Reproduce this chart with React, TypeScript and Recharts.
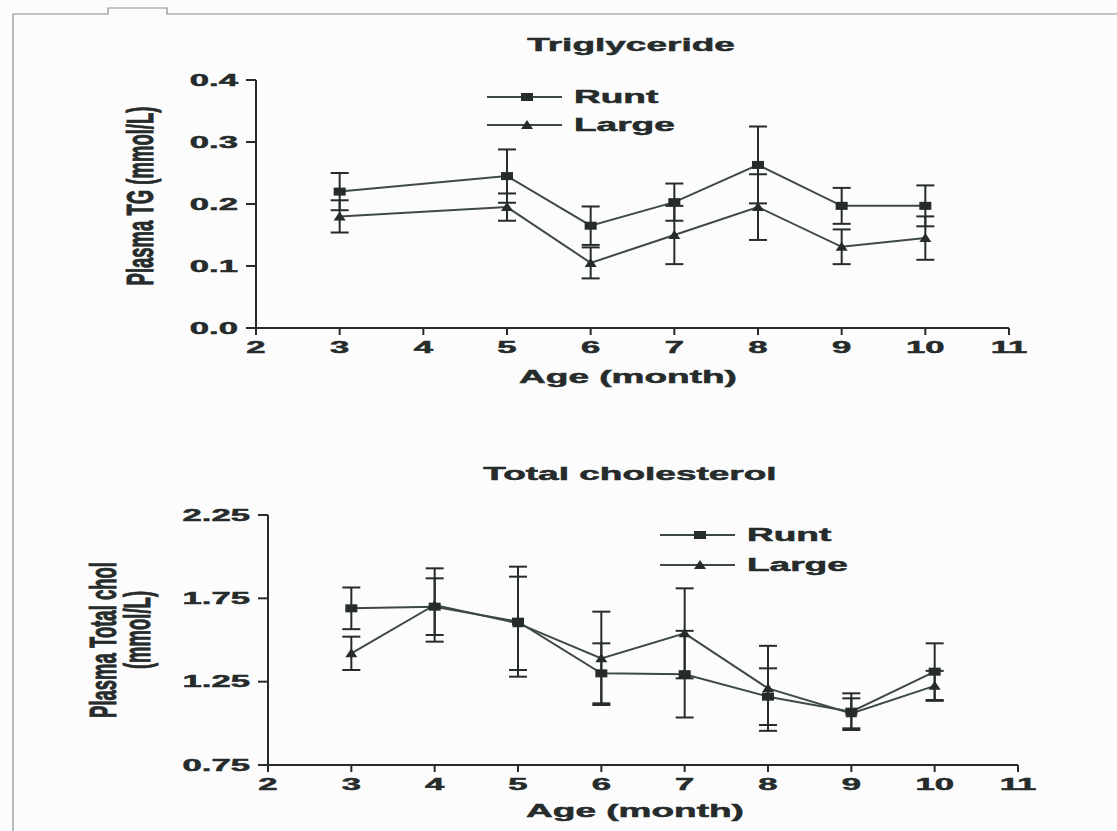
import React from 'react';
import { LineChart, Line, XAxis, YAxis, ErrorBar, Legend } from 'recharts';

// Triglyceride panel
const tgMonths = [3, 5, 6, 7, 8, 9, 10];
const tgRunt = [0.22, 0.245, 0.165, 0.203, 0.263, 0.197, 0.197];
const tgRuntErr = [0.03, 0.043, 0.031, 0.03, 0.062, 0.029, 0.033];
const tgLarge = [0.18, 0.195, 0.105, 0.15, 0.195, 0.131, 0.145];
const tgLargeErr = [0.026, 0.022, 0.025, 0.047, 0.053, 0.028, 0.035];
const tgTicks = [0, 0.1, 0.2, 0.3, 0.4];

// Total cholesterol panel
const cholMonths = [3, 4, 5, 6, 7, 8, 9, 10];
const cholRunt = [1.69, 1.7, 1.61, 1.3, 1.295, 1.16, 1.07, 1.31];
const cholRuntErr = [0.125, 0.17, 0.33, 0.18, 0.26, 0.17, 0.11, 0.17];
const cholLarge = [1.42, 1.71, 1.6, 1.39, 1.54, 1.21, 1.06, 1.225];
const cholLargeErr = [0.1, 0.22, 0.28, 0.28, 0.27, 0.255, 0.09, 0.09];
const cholTicks = [0.75, 1.25, 1.75, 2.25];

const monthTicks = [2, 3, 4, 5, 6, 7, 8, 9, 10, 11];
const seriesNames = ['Runt', 'Large'];

const tgData = tgMonths.map((m, i) => ({
  month: m,
  runt: tgRunt[i],
  runtErr: tgRuntErr[i],
  large: tgLarge[i],
  largeErr: tgLargeErr[i],
}));

const cholData = cholMonths.map((m, i) => ({
  month: m,
  runt: cholRunt[i],
  runtErr: cholRuntErr[i],
  large: cholLarge[i],
  largeErr: cholLargeErr[i],
}));

const INK = '#262b2b';
const LINE = '#3e4848';
const FONT = '"Liberation Sans", Arial, sans-serif';
const SX = 2.0; // the source figure is stretched horizontally

const SquareDot = (props: any) => {
  const { cx, cy, index } = props;
  if (cx == null || cy == null) return null;
  return <rect key={`sq-${index}`} x={cx - 6} y={cy - 4} width={12} height={8} fill={INK} />;
};

const TriangleDot = (props: any) => {
  const { cx, cy, index } = props;
  if (cx == null || cy == null) return null;
  return (
    <path key={`tr-${index}`} d={`M${cx - 6},${cy + 4}L${cx + 6},${cy + 4}L${cx},${cy - 5}Z`} fill={INK} />
  );
};

const makeYTick = (digits: number) => (props: any) => {
  const { x, y, payload } = props;
  return (
    <g transform={`translate(${x},${y}) scale(2.1,1)`}>
      <text
        x={0}
        y={0}
        dy="0.35em"
        textAnchor="end"
        fill={INK}
        stroke={INK}
        strokeWidth={0.5}
        style={{ fontFamily: FONT, fontWeight: 'bold', fontSize: 16.5 }}
      >
        {Number(payload.value).toFixed(digits)}
      </text>
    </g>
  );
};

const XTick = (props: any) => {
  const { x, y, payload } = props;
  return (
    <g transform={`translate(${x},${y}) scale(2.1,1)`}>
      <text
        x={0}
        y={0}
        dy="0.71em"
        textAnchor="middle"
        fill={INK}
        stroke={INK}
        strokeWidth={0.5}
        style={{ fontFamily: FONT, fontWeight: 'bold', fontSize: 16.5 }}
      >
        {payload.value}
      </text>
    </g>
  );
};

const makeLegend = (gap: number) => () => (
  <div style={{ fontFamily: FONT }}>
    {seriesNames.map((name, i) => (
      <div key={name} style={{ display: 'flex', alignItems: 'center', height: gap }}>
        <svg width={75} height={20} style={{ display: 'block' }}>
          <line x1={0} y1={10} x2={75} y2={10} stroke={LINE} strokeWidth={2} />
          {i === 0 ? (
            <rect x={34} y={6} width={12} height={8} fill={INK} />
          ) : (
            <path d="M34,14L46,14L40,5Z" fill={INK} />
          )}
        </svg>
        <span
          style={{
            display: 'inline-block',
            marginLeft: 12,
            fontWeight: 'bold',
            fontSize: 18.5,
            color: INK,
            transform: `scaleX(${SX})`,
            transformOrigin: 'left center',
            WebkitTextStroke: '0.5px ' + INK,
          }}
        >
          {name}
        </span>
      </div>
    ))}
  </div>
);

const textStyle = { fontFamily: FONT, fontWeight: 'bold' as const, fontSize: 18.5 };

const Stretched = ({ x, y, text, rotate = false }: { x: number; y: number; text: string; rotate?: boolean }) => (
  <g transform={rotate ? `translate(${x},${y}) scale(${SX},1) rotate(-90)` : `translate(${x},${y}) scale(${SX},1)`}>
    <text
      x={0}
      y={0}
      dy="0.35em"
      textAnchor="middle"
      fill={INK}
      stroke={INK}
      strokeWidth={0.5}
      style={textStyle}
    >
      {text}
    </text>
  </g>
);

function Panel({
  data,
  ticks,
  domain,
  digits,
  margin,
  height,
  legendGap,
  legendPos,
}: any) {
  return (
    <LineChart width={1117} height={height} data={data} margin={margin}>
      <XAxis
        dataKey="month"
        type="number"
        domain={[2, 11]}
        ticks={monthTicks}
        height={30}
        stroke={INK}
        strokeWidth={2}
        tickSize={7}
        tickMargin={6}
        tick={XTick}
        interval={0}
      />
      <YAxis
        type="number"
        domain={domain}
        ticks={ticks}
        width={61}
        stroke={INK}
        strokeWidth={2}
        tickSize={10}
        tickMargin={8}
        tick={makeYTick(digits)}
        interval={0}
      />
      <Legend
        layout="vertical"
        align="center"
        verticalAlign="middle"
        content={makeLegend(legendGap)}
        wrapperStyle={{ left: legendPos.left, top: legendPos.top, width: 260 }}
      />
      <Line
        dataKey="large"
        name="Large"
        stroke={LINE}
        strokeWidth={2}
        dot={TriangleDot}
        activeDot={false}
        isAnimationActive={false}
      >
        <ErrorBar dataKey="largeErr" direction="y" width={9} stroke={INK} strokeWidth={2} />
      </Line>
      <Line
        dataKey="runt"
        name="Runt"
        stroke={LINE}
        strokeWidth={2}
        dot={SquareDot}
        activeDot={false}
        isAnimationActive={false}
      >
        <ErrorBar dataKey="runtErr" direction="y" width={9} stroke={INK} strokeWidth={2} />
      </Line>
    </LineChart>
  );
}

export default function App() {
  return (
    <div
      style={{
        position: 'absolute',
        left: 0,
        top: 0,
        width: 1117,
        height: 831,
        background: '#fcfcfc',
        overflow: 'hidden',
      }}
    >
      {/* scanned page frame */}
      <svg width={1117} height={831} style={{ position: 'absolute', left: 0, top: 0 }}>
        <path d="M13,831L13,14L108,14L108,8L167,8L167,14L1117,14" fill="none" stroke="#8a8f8f" strokeWidth={1.2} />
      </svg>

      <div style={{ position: 'absolute', left: 0, top: 0 }}>
        <Panel
          data={tgData}
          ticks={tgTicks}
          domain={[0, 0.4]}
          digits={1}
          height={400}
          margin={{ top: 80, right: 108, left: 195, bottom: 42 }}
          legendGap={28}
          legendPos={{ left: 487, top: 83 }}
        />
      </div>

      <div style={{ position: 'absolute', left: 0, top: 440 }}>
        <Panel
          data={cholData}
          ticks={cholTicks}
          domain={[0.75, 2.25]}
          digits={2}
          height={391}
          margin={{ top: 75, right: 99, left: 207, bottom: 36 }}
          legendGap={30}
          legendPos={{ left: 660, top: 80 }}
        />
      </div>

      {/* titles and axis labels */}
      <svg width={1117} height={831} style={{ position: 'absolute', left: 0, top: 0, pointerEvents: 'none' }}>
        <Stretched x={631} y={45} text="Triglyceride" />
        <Stretched x={628} y={377} text="Age (month)" />
        <Stretched x={140} y={196} text="Plasma TG (mmol/L)" rotate />
        <Stretched x={630} y={474} text="Total cholesterol" />
        <Stretched x={635} y={811} text="Age (month)" />
        <Stretched x={103} y={640} text="Plasma Total chol" rotate />
        <Stretched x={137} y={630} text="(mmol/L)" rotate />
      </svg>
    </div>
  );
}
